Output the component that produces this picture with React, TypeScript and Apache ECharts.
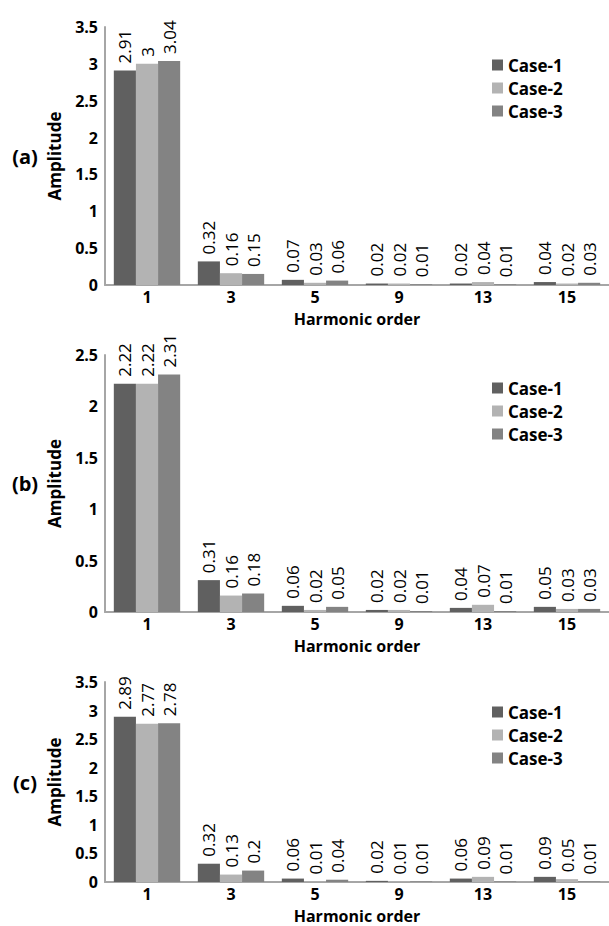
import React, { useEffect, useRef } from "react";
import * as echarts from "echarts";

const categories = ["1", "3", "5", "9", "13", "15"];
const seriesNames = ["Case-1", "Case-2", "Case-3"];
const colors = ["#606060", "#b3b3b3", "#838383"];

const panelA_case1 = [2.91, 0.32, 0.07, 0.02, 0.02, 0.04];
const panelA_case2 = [3, 0.16, 0.03, 0.02, 0.04, 0.02];
const panelA_case3 = [3.04, 0.15, 0.06, 0.01, 0.01, 0.03];

const panelB_case1 = [2.22, 0.31, 0.06, 0.02, 0.04, 0.05];
const panelB_case2 = [2.22, 0.16, 0.02, 0.02, 0.07, 0.03];
const panelB_case3 = [2.31, 0.18, 0.05, 0.01, 0.01, 0.03];

const panelC_case1 = [2.89, 0.32, 0.06, 0.02, 0.06, 0.09];
const panelC_case2 = [2.77, 0.13, 0.01, 0.01, 0.09, 0.05];
const panelC_case3 = [2.78, 0.2, 0.04, 0.01, 0.01, 0.01];

const panelLabels = ["(a)", "(b)", "(c)"];
const yMax = [3.5, 2.5, 3.5];
const yInterval = 0.5;
const xName = "Harmonic order";
const yName = "Amplitude";

const FONT = "'Open Sans', 'DejaVu Sans', sans-serif";

export default function App() {
  const ref = useRef<HTMLDivElement>(null);
  useEffect(() => {
    if (!ref.current) return;
    const chart = echarts.init(ref.current, null, { renderer: "svg" });
    const panels = [
      [panelA_case1, panelA_case2, panelA_case3],
      [panelB_case1, panelB_case2, panelB_case3],
      [panelC_case1, panelC_case2, panelC_case3],
    ];
    const grids = [
      { top: 27, height: 258 },
      { top: 355, height: 257 },
      { top: 682, height: 200 },
    ];
    const legendTops = [51, 374, 698];
    const axisLine = { show: true, lineStyle: { color: "#a6a6a6", width: 2 } };

    const series: any[] = [];
    panels.forEach((p, pi) => {
      p.forEach((vals, si) => {
        series.push({
          type: "bar",
          name: seriesNames[si],
          xAxisIndex: pi,
          yAxisIndex: pi,
          data: vals,
          barGap: "0%",
          barCategoryGap: "21%",
          itemStyle: { color: colors[si] },
          label: {
            show: true,
            position: "top",
            rotate: 90,
            align: "left",
            verticalAlign: "middle",
            distance: 7,
            fontFamily: FONT,
            fontSize: 17,
            color: "#000",
          },
        });
      });
    });

    chart.setOption({
      animation: false,
      textStyle: { fontFamily: FONT },
      grid: grids.map((g) => ({ left: 105, width: 507, top: g.top, height: g.height })),
      xAxis: grids.map((_, i) => ({
        type: "category",
        gridIndex: i,
        data: categories,
        axisLine,
        axisTick: { show: false },
        axisLabel: {
          fontFamily: FONT,
          fontSize: 16,
          fontWeight: "bold",
          color: "#000",
          margin: 4,
          lineHeight: 16,
        },
        name: xName,
        nameLocation: "middle",
        nameGap: 26,
        nameTextStyle: {
          fontFamily: FONT,
          fontSize: 16,
          fontWeight: "bold",
          color: "#000",
          lineHeight: 16,
        },
      })),
      yAxis: grids.map((_, i) => ({
        type: "value",
        gridIndex: i,
        min: 0,
        max: yMax[i],
        interval: yInterval,
        splitLine: { show: false },
        axisLine,
        axisTick: { show: false },
        axisLabel: { fontFamily: FONT, fontSize: 16, fontWeight: "bold", color: "#000", margin: 7 },
        name: yName,
        nameLocation: "middle",
        nameRotate: 90,
        nameGap: 42,
        nameTextStyle: { fontFamily: FONT, fontSize: 17, fontWeight: "bold", color: "#000" },
      })),
      legend: legendTops.map((t) => ({
        orient: "vertical",
        left: 487,
        top: t,
        itemWidth: 11,
        itemHeight: 11,
        itemGap: 5,
        icon: "rect",
        data: seriesNames,
        selectedMode: false,
        textStyle: { fontFamily: FONT, fontSize: 17, fontWeight: "bold", color: "#000", lineHeight: 18 },
      })),
      graphic: panelLabels.map((lab, i) => ({
        type: "text",
        x: 25,
        y: grids[i].top + grids[i].height / 2,
        style: {
          text: lab,
          fontFamily: FONT,
          fontSize: 20,
          fontWeight: "bold",
          fill: "#000",
          align: "center",
          verticalAlign: "middle",
        },
      })),
      series,
    });
    return () => chart.dispose();
  }, []);
  return (
    <div
      ref={ref}
      style={{ position: "fixed", left: 0, top: 0, width: 609, height: 926, background: "#fff" }}
    />
  );
}
